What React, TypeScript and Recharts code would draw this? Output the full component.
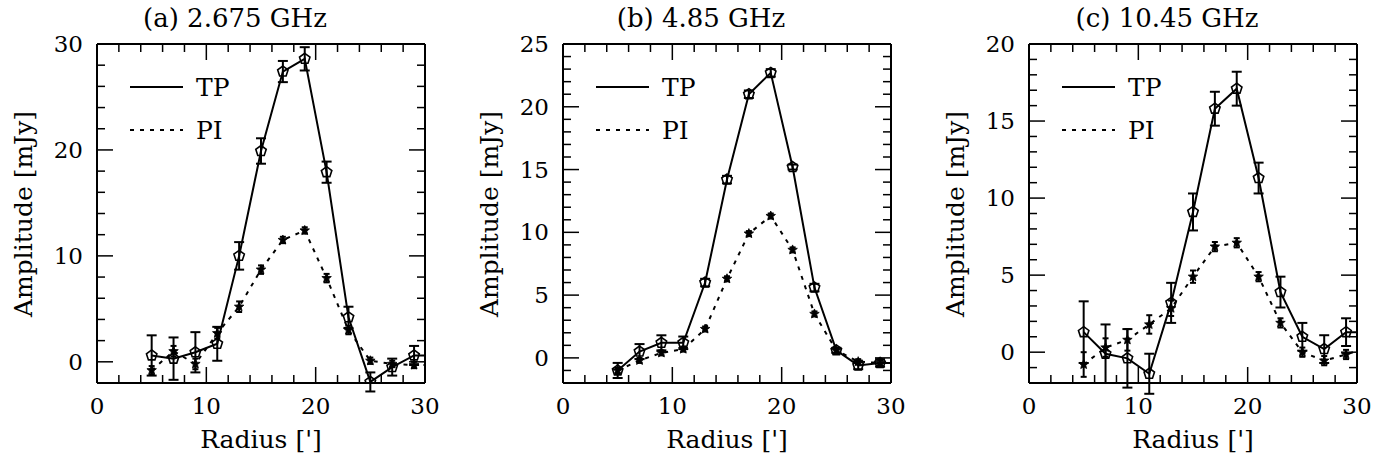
import React from "react";
import { LineChart, Line, XAxis, YAxis, ErrorBar } from "recharts";

// radius of each annulus (arcmin); the last point lies just outside the frame
const radius = [5, 7, 9, 11, 13, 15, 17, 19, 21, 23, 25, 27, 29, 31];

// (a) 2.675 GHz
const tpA = [0.6, 0.3, 0.9, 1.7, 10.0, 19.9, 27.4, 28.6, 17.9, 4.2, -1.9, -0.5, 0.6, 0.6];
const tpErrA = [1.9, 2.0, 1.9, 1.6, 1.3, 1.2, 1.0, 1.1, 1.0, 1.0, 0.9, 0.8, 0.9];
const piA = [-0.8, 1.0, -0.2, 2.7, 5.2, 8.7, 11.5, 12.4, 7.9, 3.0, 0.1, -0.2, -0.3, -0.3];
const piErrA = [0.4, 0.5, 0.5, 0.5, 0.5, 0.4, 0.3, 0.3, 0.4, 0.4, 0.3, 0.3, 0.3];

// (b) 4.85 GHz
const tpB = [-1.0, 0.5, 1.2, 1.2, 6.0, 14.2, 21.0, 22.7, 15.2, 5.6, 0.6, -0.6, -0.4, -0.4];
const tpErrB = [0.6, 0.6, 0.6, 0.5, 0.3, 0.3, 0.3, 0.3, 0.2, 0.3, 0.2, 0.3, 0.3];
const piB = [-1.0, -0.2, 0.4, 0.7, 2.3, 6.3, 9.9, 11.3, 8.6, 3.5, 0.6, -0.3, -0.4, -0.3];
const piErrB = [0.2, 0.2, 0.2, 0.2, 0.2, 0.2, 0.2, 0.2, 0.2, 0.2, 0.2, 0.2, 0.2];

// (c) 10.45 GHz
const tpC = [1.3, -0.1, -0.4, -1.4, 3.2, 9.1, 15.8, 17.1, 11.3, 3.9, 1.0, 0.2, 1.3, 1.3];
const tpErrC = [2.0, 1.9, 1.9, 1.3, 1.3, 1.2, 1.1, 1.1, 1.0, 1.0, 0.9, 0.9, 0.9];
const piC = [-0.8, 0.3, 0.8, 1.8, 2.85, 4.9, 6.85, 7.1, 4.9, 1.9, 0.0, -0.55, -0.15, 0.3];
const piErrC = [0.8, 0.6, 0.7, 0.6, 0.5, 0.4, 0.3, 0.3, 0.3, 0.3, 0.3, 0.3, 0.3];

const xTicks = [0, 2, 4, 6, 8, 10, 12, 14, 16, 18, 20, 22, 24, 26, 28, 30];
const yTicksA = [0, 2, 4, 6, 8, 10, 12, 14, 16, 18, 20, 22, 24, 26, 28, 30];
const yTicksB = [-1, 0, 1, 2, 3, 4, 5, 6, 7, 8, 9, 10, 11, 12, 13, 14, 15, 16, 17, 18, 19, 20, 21, 22, 23, 24, 25];
const yTicksC = [-1, 0, 1, 2, 3, 4, 5, 6, 7, 8, 9, 10, 11, 12, 13, 14, 15, 16, 17, 18, 19, 20];

const FONT = "'DejaVu Serif', serif";
const W = 466;
const H = 464;
const MAJOR = 16;
const MINOR = 8;

function pentagon(cx: number, cy: number, r: number) {
  const pts = [];
  for (let i = 0; i < 5; i++) {
    const a = -Math.PI / 2 + (i * 2 * Math.PI) / 5;
    pts.push(`${cx + r * Math.cos(a)},${cy + r * Math.sin(a)}`);
  }
  return pts.join(" ");
}

function star(cx: number, cy: number, ro: number, ri: number) {
  const pts = [];
  for (let i = 0; i < 10; i++) {
    const r = i % 2 === 0 ? ro : ri;
    const a = -Math.PI / 2 + (i * Math.PI) / 5;
    pts.push(`${cx + r * Math.cos(a)},${cy + r * Math.sin(a)}`);
  }
  return pts.join(" ");
}

const TpDot = (p: any) => {
  if (p.payload.r > 30) return <g key={p.key} />;
  return (
    <polygon key={p.key} points={pentagon(p.cx, p.cy, 5.5)} fill="none" stroke="#000" strokeWidth={1.6} />
  );
};

const PiDot = (p: any) => {
  if (p.payload.r > 30) return <g key={p.key} />;
  return <polygon key={p.key} points={star(p.cx, p.cy, 5, 2.2)} fill="#000" stroke="#000" strokeWidth={0.8} />;
};

const bottomTick = (p: any) => {
  const v = p.payload.value;
  const major = v % 10 === 0;
  return (
    <g>
      <line x1={p.x} y1={p.y} x2={p.x} y2={p.y - (major ? MAJOR : MINOR)} stroke="#000" strokeWidth={1.5} />
      {major && (
        <text x={p.x} y={p.y + 31} textAnchor="middle" fontFamily={FONT} fontSize={23} fill="#000">
          {v}
        </text>
      )}
    </g>
  );
};

const topTick = (p: any) => {
  const major = p.payload.value % 10 === 0;
  return <line x1={p.x} y1={p.y} x2={p.x} y2={p.y + (major ? MAJOR : MINOR)} stroke="#000" strokeWidth={1.5} />;
};

const makeLeftTick = (step: number) => (p: any) => {
  const v = p.payload.value;
  const major = v % step === 0;
  return (
    <g>
      <line x1={p.x} y1={p.y} x2={p.x + (major ? MAJOR : MINOR)} y2={p.y} stroke="#000" strokeWidth={1.5} />
      {major && (
        <text x={p.x - 14} y={p.y + 8} textAnchor="end" fontFamily={FONT} fontSize={23} fill="#000">
          {v}
        </text>
      )}
    </g>
  );
};

const makeRightTick = (step: number) => (p: any) => {
  const major = p.payload.value % step === 0;
  return <line x1={p.x} y1={p.y} x2={p.x - (major ? MAJOR : MINOR)} y2={p.y} stroke="#000" strokeWidth={1.5} />;
};

interface PanelProps {
  title: string;
  tp: number[];
  tpErr: number[];
  pi: number[];
  piErr: number[];
  yMax: number;
  yTicks: number[];
  yStep: number;
}

function Panel({ title, tp, tpErr, pi, piErr, yMax, yTicks, yStep }: PanelProps) {
  const data = radius.map((r, i) => ({
    r,
    tp: tp[i],
    tpErr: tpErr[i],
    pi: pi[i],
    piErr: piErr[i],
  }));
  const leftTick = makeLeftTick(yStep);
  const rightTick = makeRightTick(yStep);
  const frame = { stroke: "#000", strokeWidth: 2 };
  return (
    <div style={{ position: "relative", width: W, height: H }}>
      <LineChart width={W} height={H} data={data} margin={{ top: 43, right: 40, bottom: 0, left: 0 }}>
        <XAxis
          dataKey="r"
          type="number"
          domain={[0, 30]}
          ticks={xTicks}
          interval={0}
          allowDataOverflow
          height={81}
          tickSize={0}
          tickMargin={0}
          tickLine={false}
          tick={bottomTick}
          axisLine={frame}
        />
        <XAxis
          xAxisId="top"
          orientation="top"
          dataKey="r"
          type="number"
          domain={[0, 30]}
          ticks={xTicks}
          interval={0}
          allowDataOverflow
          height={1}
          tickSize={0}
          tickMargin={0}
          tickLine={false}
          tick={topTick}
          axisLine={frame}
        />
        <YAxis
          type="number"
          domain={[-2, yMax]}
          ticks={yTicks}
          interval={0}
          allowDataOverflow
          width={97}
          tickSize={0}
          tickMargin={0}
          tickLine={false}
          tick={leftTick}
          axisLine={frame}
        />
        <YAxis
          yAxisId="right"
          orientation="right"
          type="number"
          domain={[-2, yMax]}
          ticks={yTicks}
          interval={0}
          allowDataOverflow
          width={1}
          tickSize={0}
          tickMargin={0}
          tickLine={false}
          tick={rightTick}
          axisLine={frame}
        />
        <Line
          dataKey="tp"
          stroke="#000"
          strokeWidth={2}
          dot={TpDot}
          activeDot={false}
          isAnimationActive={false}
        >
          <ErrorBar dataKey="tpErr" width={5} stroke="#000" strokeWidth={2} direction="y" />
        </Line>
        <Line
          dataKey="pi"
          stroke="#000"
          strokeWidth={2}
          strokeDasharray="4 6"
          dot={PiDot}
          activeDot={false}
          isAnimationActive={false}
        >
          <ErrorBar dataKey="piErr" width={3} stroke="#000" strokeWidth={2} direction="y" />
        </Line>
      </LineChart>
      <svg width={W} height={H} style={{ position: "absolute", left: 0, top: 0, pointerEvents: "none" }}>
        <text x={235} y={27} textAnchor="middle" fontFamily={FONT} fontSize={26} fill="#000">
          {title}
        </text>
        <text
          x={32}
          y={214}
          textAnchor="middle"
          fontFamily={FONT}
          fontSize={25}
          fill="#000"
          transform="rotate(-90 32 214)"
        >
          Amplitude [mJy]
        </text>
        <text x={261} y={448} textAnchor="middle" fontFamily={FONT} fontSize={25} fill="#000">
          Radius [']
        </text>
        <line x1={130} y1={87} x2={183} y2={87} stroke="#000" strokeWidth={2} />
        <text x={196} y={96} fontFamily={FONT} fontSize={25} fill="#000">
          TP
        </text>
        <line x1={130} y1={130} x2={183} y2={130} stroke="#000" strokeWidth={2} strokeDasharray="4 6" />
        <text x={196} y={139} fontFamily={FONT} fontSize={25} fill="#000">
          PI
        </text>
      </svg>
    </div>
  );
}

export default function App() {
  return (
    <div style={{ position: "absolute", left: 0, top: 0, width: 1389, height: 464, background: "#fff", display: "flex" }}>
      <Panel title="(a) 2.675 GHz" tp={tpA} tpErr={tpErrA} pi={piA} piErr={piErrA} yMax={30} yTicks={yTicksA} yStep={10} />
      <Panel title="(b) 4.85 GHz" tp={tpB} tpErr={tpErrB} pi={piB} piErr={piErrB} yMax={25} yTicks={yTicksB} yStep={5} />
      <Panel title="(c) 10.45 GHz" tp={tpC} tpErr={tpErrC} pi={piC} piErr={piErrC} yMax={20} yTicks={yTicksC} yStep={5} />
    </div>
  );
}
